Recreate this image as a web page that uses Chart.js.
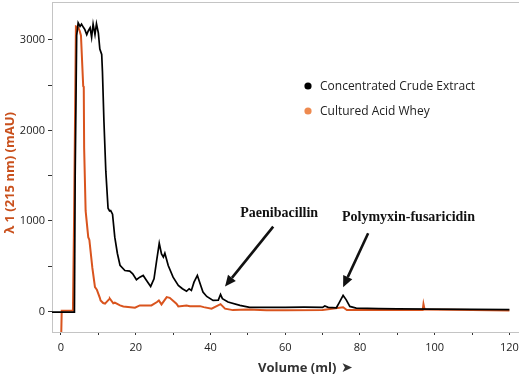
<!DOCTYPE html>
<html>
<head>
<meta charset="utf-8">
<script src="https://cdn.jsdelivr.net/npm/chart.js@4/dist/chart.umd.min.js"></script>
<style>
  html, body { margin: 0; padding: 0; background: #fff; }
  #wrap { width: 519px; height: 380px; }
</style>
</head>
<body>
<div id="wrap"><canvas id="chart-hplc" width="519" height="380"></canvas></div>
<script>
// chromatogram readings (volume in ml, absorbance in mAU)
const crudeVolume = [-2.4, 3.6, 3.8, 4.2, 4.6, 5.1, 5.5, 6.0, 6.4, 6.9, 7.3, 7.8, 8.2, 8.6, 9.1, 9.5, 10.0, 10.4, 10.9, 11.1, 11.5, 12.0, 12.6, 13.0, 13.3, 13.8, 14.4, 15.1, 15.8, 17.1, 18.4, 19.2, 20.2, 21.1, 22.0, 22.9, 24.0, 24.9, 25.6, 26.3, 26.9, 27.4, 27.8, 28.7, 30.0, 31.4, 32.5, 33.6, 34.3, 34.9, 35.6, 36.5, 37.4, 38.0, 39.0, 40.7, 42.1, 42.7, 43.2, 44.7, 47.9, 50.5, 55, 60, 65, 70, 70.6, 71.5, 73.7, 74.5, 75.5, 76.3, 77.3, 79, 85, 90, 100, 110, 120];
const crudeAbs = [-8, -8, 1500, 3050, 3190, 3150, 3175, 3140, 3115, 3060, 3100, 3135, 3030, 3175, 3060, 3180, 3080, 2900, 2840, 2650, 2100, 1550, 1140, 1110, 1115, 1075, 820, 640, 510, 452, 445, 416, 350, 378, 397, 342, 276, 360, 560, 753, 636, 600, 643, 507, 378, 287, 250, 222, 250, 232, 323, 397, 287, 213, 165, 121, 125, 187, 140, 103, 66, 44, 45, 44, 46, 44, 60, 44, 40, 100, 176, 130, 55, 36, 30, 28, 25, 22, 20];

const wheyVolume = [0, 0.2, 3.2, 3.5, 4.0, 4.6, 5.0, 5.35, 5.95, 6.1, 6.2, 6.6, 7.3, 7.6, 8.4, 9.1, 9.6, 10.4, 10.6, 11.3, 11.8, 12.9, 13.1, 14.0, 14.4, 15.8, 16.7, 19.8, 21.1, 24.2, 25.7, 26.2, 26.9, 28.3, 29.1, 30.9, 31.4, 33.6, 34.5, 37.2, 38.2, 40.3, 42.7, 43.9, 46, 50, 55, 60, 70, 75.5, 76.5, 90, 96.8, 97.0, 97.3, 110, 120];
const wheyAbs = [-400, 8, 10, 1000, 3150, 3140, 3100, 3050, 2490, 2480, 1810, 1110, 820, 790, 480, 268, 240, 150, 121, 92, 85, 135, 140, 90, 96, 66, 55, 41, 66, 66, 103, 121, 77, 158, 150, 85, 55, 66, 58, 58, 47, 30, 80, 30, 14, 20, 12, 12, 14, 45, 15, 14, 14, 80, 20, 14, 10];

const seriesNames = ['Concentrated Crude Extract', 'Cultured Acid Whey'];
const yTickValues = [0, 500, 1000, 1500, 2000, 2500, 3000];
const yTickLabels = [0, 1000, 2000, 3000];
const xTickValues = [0, 10, 20, 30, 40, 50, 60, 70, 80, 90, 100, 110, 120];
const xTickLabels = [0, 20, 40, 60, 80, 100, 120];

// peak callouts: label position and arrow tail -> tip, all in data units
const callouts = [
    { text: 'Paenibacillin', at: [58.4, 1080], from: [56.8, 937], to: [43.9, 276] },
    { text: 'Polymyxin-fusaricidin', at: [93, 1036], from: [82.2, 863], to: [75.5, 268] },
];

const toPoints = (xs, ys) => xs.map((v, i) => ({ x: v, y: ys[i] }));

const extrasPlugin = {
    id: 'extras',
    afterDraw(chart) {
        const ctx = chart.ctx;
        const area = chart.chartArea;
        const xs = chart.scales.x;
        const ys = chart.scales.y;

        ctx.save();

        // frame line along the top
        ctx.strokeStyle = '#c4c4c4';
        ctx.lineWidth = 1;
        ctx.beginPath();
        ctx.moveTo(area.left, area.top + 0.5);
        ctx.lineTo(chart.width, area.top + 0.5);
        ctx.stroke();

        // axis titles
        ctx.fillStyle = '#c9501c';
        ctx.font = 'bold 13px "Open Sans"';
        ctx.textAlign = 'center';
        ctx.textBaseline = 'middle';
        ctx.save();
        ctx.translate(10, 173);
        ctx.rotate(-Math.PI / 2);
        ctx.fillText('λ 1 (215 nm) (mAU)', 0, 0);
        ctx.restore();

        ctx.fillStyle = '#333';
        ctx.font = 'bold 13px "Open Sans"';
        ctx.textAlign = 'left';
        ctx.fillText('Volume (ml)', 258, 368);
        ctx.font = 'bold 14px "DejaVu Sans"';
        ctx.fillText('➤', 341, 368);

        // legend
        const colors = chart.data.datasets.map(d => d.legendColor);
        ctx.font = '12px "Open Sans"';
        ctx.textAlign = 'left';
        seriesNames.forEach((name, i) => {
            const y = 86 + i * 25;
            ctx.fillStyle = colors[i];
            ctx.beginPath();
            ctx.arc(308, y, 3.6, 0, Math.PI * 2);
            ctx.fill();
            ctx.fillStyle = '#222';
            ctx.fillText(name, 320, y + 1);
        });

        // peak callouts
        callouts.forEach(c => {
            ctx.fillStyle = '#111';
            ctx.font = 'bold 14px "Liberation Serif"';
            ctx.textAlign = 'center';
            ctx.fillText(c.text, xs.getPixelForValue(c.at[0]), ys.getPixelForValue(c.at[1]));

            const x1 = xs.getPixelForValue(c.from[0]);
            const y1 = ys.getPixelForValue(c.from[1]);
            const x2 = xs.getPixelForValue(c.to[0]);
            const y2 = ys.getPixelForValue(c.to[1]);
            const ang = Math.atan2(y2 - y1, x2 - x1);
            const head = 11;
            const bx = x2 - head * Math.cos(ang);
            const by = y2 - head * Math.sin(ang);

            ctx.strokeStyle = '#111';
            ctx.lineWidth = 2.6;
            ctx.beginPath();
            ctx.moveTo(x1, y1);
            ctx.lineTo(bx, by);
            ctx.stroke();

            ctx.beginPath();
            ctx.moveTo(x2, y2);
            ctx.lineTo(bx + 5 * Math.sin(ang), by - 5 * Math.cos(ang));
            ctx.lineTo(bx - 5 * Math.sin(ang), by + 5 * Math.cos(ang));
            ctx.closePath();
            ctx.fill();
        });

        ctx.restore();
    },
};

new Chart(document.getElementById('chart-hplc').getContext('2d'), {
    type: 'line',
    data: {
        datasets: [
            {
                label: seriesNames[0],
                data: toPoints(crudeVolume, crudeAbs),
                borderColor: '#000000',
                legendColor: '#000000',
                borderWidth: 1.7,
                pointRadius: 0,
                tension: 0,
            },
            {
                label: seriesNames[1],
                data: toPoints(wheyVolume, wheyAbs),
                borderColor: '#d9541e',
                legendColor: '#ee8a4f',
                borderWidth: 2,
                pointRadius: 0,
                tension: 0,
            },
        ],
    },
    options: {
        responsive: false,
        animation: false,
        layout: {
            padding: { top: 2, right: 1, left: 0, bottom: 0 },
        },
        plugins: {
            legend: { display: false },
            tooltip: { enabled: false },
        },
        scales: {
            x: {
                type: 'linear',
                min: -2.4,
                max: 122.3,
                afterBuildTicks: (s) => { s.ticks = xTickValues.map(v => ({ value: v })); },
                afterFit: (s) => {
                    s.height = 48;
                    s.paddingLeft = 0;
                    s.paddingRight = 0;
                },
                ticks: {
                    autoSkip: false,
                    maxRotation: 0,
                    padding: 6,
                    color: '#222',
                    font: { family: 'Open Sans', size: 11 },
                    callback: (v) => (xTickLabels.includes(v) ? String(v) : ''),
                },
                grid: {
                    drawOnChartArea: false,
                    tickLength: 3,
                    color: '#333',
                },
                border: { color: '#c4c4c4' },
            },
            y: {
                min: -228,
                max: 3420,
                afterBuildTicks: (s) => { s.ticks = yTickValues.map(v => ({ value: v })); },
                afterFit: (s) => {
                    s.width = 52;
                    s.paddingTop = 0;
                    s.paddingBottom = 0;
                },
                ticks: {
                    autoSkip: false,
                    padding: 3,
                    color: '#222',
                    font: { family: 'Open Sans', size: 11 },
                    callback: (v) => (yTickLabels.includes(v) ? String(v) : ''),
                },
                grid: {
                    drawOnChartArea: false,
                    tickLength: 4,
                    color: '#333',
                },
                border: { color: '#c4c4c4' },
            },
        },
    },
    plugins: [extrasPlugin],
});
</script>
</body>
</html>
